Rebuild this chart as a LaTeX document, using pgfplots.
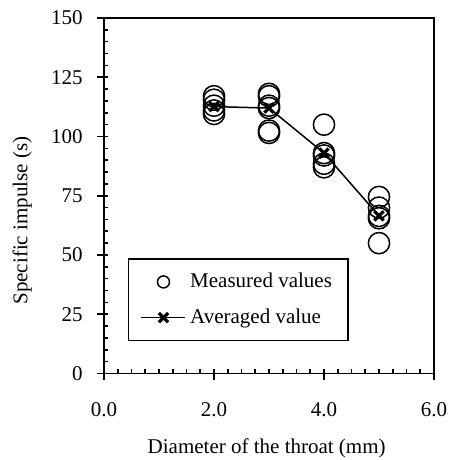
\documentclass[border=0pt]{standalone}
\usepackage{fontspec}
\setmainfont{Liberation Serif}
\usepackage{pgfplots}
\pgfplotsset{compat=1.18}
\pgfplotsset{
  circlegend/.style={legend image code/.code={\draw[mark=o, mark size=3pt, line width=0.75pt] plot coordinates {(11pt,0pt)};}},
  linelegend/.style={legend image code/.code={\draw[##1, mark repeat=2, mark phase=2] plot coordinates {(0pt,0pt) (11pt,0pt) (22pt,0pt)};}},
}
\begin{document}
\fontsize{10.5}{12.6}\selectfont
\begin{tikzpicture}
\useasboundingbox (-52pt,-43.25pt) rectangle (172.5pt,186.75pt);
\begin{axis}[
  at={(0,0)}, anchor=south west,
  scale only axis, width=165pt, height=177.75pt,
  xmin=0, xmax=6, ymin=0, ymax=150,
  xtick={0,2,4,6}, minor x tick num=7,
  ytick={0,25,50,75,100,125,150}, minor y tick num=4,
  tick pos=left,
  tick align=inside,
  major tick length=2pt, minor tick length=2pt,
  extra x ticks={0,2,4,6}, extra x tick labels={},
  extra y ticks={0,25,50,75,100,125,150}, extra y tick labels={},
  extra tick style={tick align=outside, major tick length=3.5pt},
  axis line style={line width=0.8pt},
  every tick/.style={black, line width=0.8pt},
  x tick label style={/pgf/number format/.cd, fixed, fixed zerofill, precision=1, /tikz/.cd, yshift=-11pt},
  y tick label style={xshift=-7pt},
  /pgf/number format/assume math mode=true,
  tick label style={font=\fontsize{10.5}{12.6}\selectfont},
  label style={font=\fontsize{10.5}{12.6}\selectfont},
  xlabel={Diameter of the throat (mm)},
  ylabel={Specific impulse (s)},
  xlabel style={at={(axis description cs:0.493,-0.21)}, anchor=center},
  ylabel style={at={(axis description cs:-0.248,0.43)}, anchor=center},
  legend style={at={(axis description cs:0.073,0.091)}, anchor=south west,
    draw=black, line width=0.65pt, inner xsep=6pt, inner ysep=5pt,
    row sep=5pt, font=\fontsize{10.5}{12.6}\selectfont},
  legend cell align=left,
]

% measured values
\addplot[only marks, mark=o, mark size=5.3pt, mark options={line width=0.75pt}, circlegend]
  coordinates {
  (2,117) (2,115.5) (2,113) (2,111) (2,109.5)
  (3,118) (3,117) (3,113) (3,112) (3,102.5) (3,101.5)
  (4,105) (4,93) (4,92) (4,88.5) (4,87)
  (5,74.5) (5,70) (5,66.5) (5,65.5) (5,55)
};
\addlegendentry{Measured values}

% averaged value
\addplot[black, line width=0.75pt, mark=x, mark size=3.3pt, mark options={line width=1.6pt}, linelegend]
  coordinates {(2,112.6) (3,112) (4,93) (5,66.5)};
\addlegendentry{Averaged value}

\end{axis}
\end{tikzpicture}
\end{document}
